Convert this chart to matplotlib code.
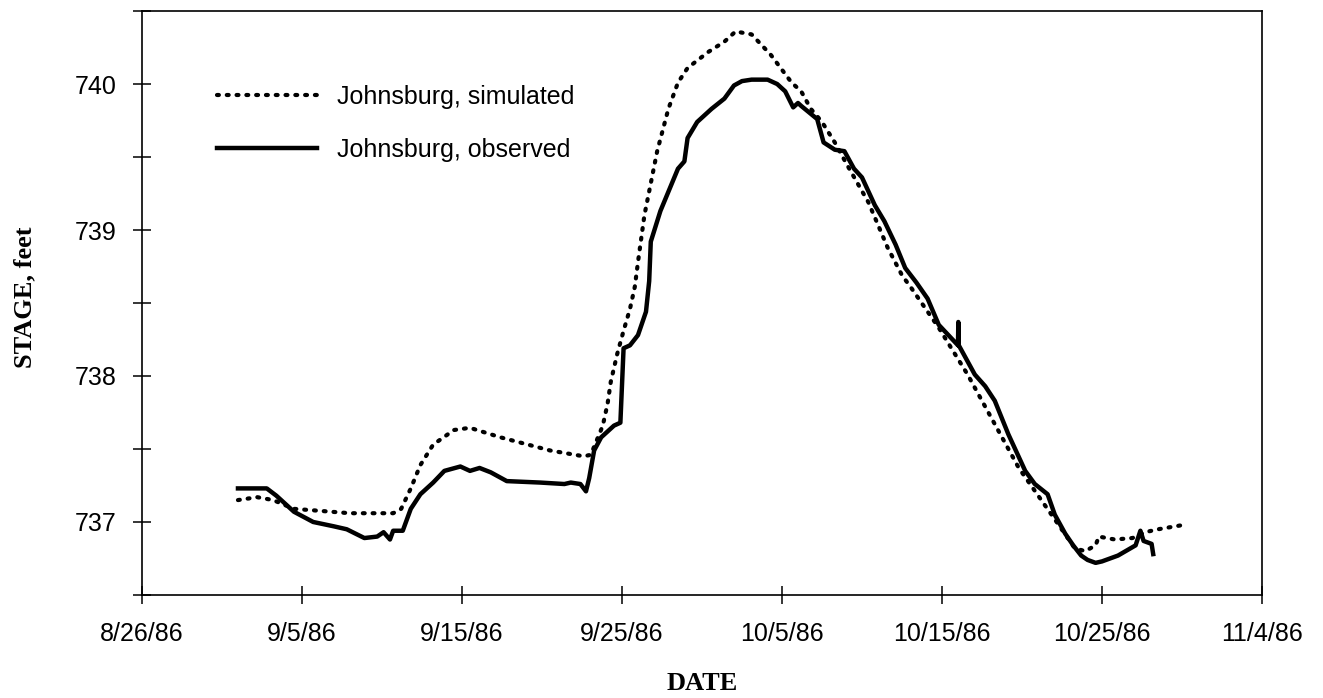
import numpy as np
import pandas as pd
import matplotlib
matplotlib.use("Agg")
import matplotlib.pyplot as plt
from matplotlib.ticker import MultipleLocator

start = pd.Timestamp("1986-08-26")

# observed stage, Johnsburg (days after 8/26/86, feet)
obs_day = [6.0, 7.8, 8.4, 9.5, 10.7, 12.0, 12.8, 13.9, 14.7, 15.1, 15.5, 15.7,
           16.3, 16.8, 17.4, 18.2, 18.9, 19.9, 20.5, 21.1, 21.8, 22.8, 24.9,
           26.4, 26.8, 27.4, 27.75, 27.95, 28.26, 28.7, 29.5, 29.9, 30.1, 30.5,
           31.0, 31.5, 31.7, 31.8, 32.4, 33.5, 33.9, 34.1, 34.7, 35.6, 36.4,
           37.0, 37.5, 38.1, 39.1, 39.7, 40.2, 40.7, 41.0, 41.2, 42.2, 42.6,
           43.3, 43.9, 44.5, 45.0, 45.8, 46.4, 47.1, 47.7, 48.4, 49.1, 49.8,
           50.4, 51.0, 51.02, 51.05, 51.5, 52.05, 52.7, 53.3, 54.15, 55.2, 55.8,
           56.6, 57.05, 57.7, 58.2, 58.7, 59.1, 59.6, 60.0, 61.0, 62.1, 62.4,
           62.6, 63.1, 63.2]
obs_stage = [737.23, 737.23, 737.18, 737.07, 737.00, 736.97, 736.95, 736.89,
             736.90, 736.93, 736.88, 736.94, 736.94, 737.09, 737.19, 737.27,
             737.35, 737.38, 737.35, 737.37, 737.34, 737.28, 737.27, 737.26,
             737.27, 737.26, 737.21, 737.30, 737.49, 737.58, 737.66, 737.68,
             738.19, 738.21, 738.28, 738.44, 738.65, 738.92, 739.13, 739.42,
             739.47, 739.63, 739.74, 739.83, 739.90, 739.99, 740.02, 740.03,
             740.03, 740.00, 739.95, 739.84, 739.87, 739.85, 739.76, 739.60,
             739.55, 739.54, 739.42, 739.36, 739.17, 739.06, 738.90, 738.74,
             738.64, 738.53, 738.35, 738.28, 738.21, 738.37, 738.21, 738.12,
             738.01, 737.93, 737.83, 737.60, 737.35, 737.26, 737.19, 737.05,
             736.92, 736.84, 736.77, 736.74, 736.72, 736.73, 736.77, 736.84,
             736.94, 736.87, 736.85, 736.78]

# simulated stage, Johnsburg
sim_day = [6.0, 7.2, 8.2, 9.5, 10.7, 13.0, 15.7, 16.2, 16.8, 17.4, 18.2, 19.5,
           20.5, 22.4, 25.5, 27.6, 28.05, 28.8, 29.1, 29.3, 29.7, 30.1, 30.5,
           30.8, 31.0, 31.4, 32.2, 32.9, 33.5, 34.1, 35.4, 36.4, 37.1, 38.1,
           39.3, 40.6, 41.2, 41.8, 42.5, 43.3, 44.1, 45.4, 46.6, 47.5, 48.1,
           49.8, 51.6, 54.8, 57.1, 58.3, 58.95, 59.6, 59.8, 60.8, 61.9, 62.7,
           63.5, 65.1]
sim_stage = [737.15, 737.17, 737.15, 737.09, 737.08, 737.06, 737.06, 737.09,
             737.23, 737.39, 737.53, 737.63, 737.645, 737.58, 737.49, 737.45,
             737.46, 737.66, 737.81, 737.96, 738.15, 738.31, 738.46, 738.61,
             738.78, 739.10, 739.54, 739.83, 740.01, 740.11, 740.22, 740.29,
             740.36, 740.34, 740.20, 740.01, 739.95, 739.83, 739.74, 739.60,
             739.44, 739.19, 738.88, 738.69, 738.60, 738.33, 738.01, 737.37,
             737.01, 736.82, 736.80, 736.84, 736.90, 736.88, 736.89, 736.93,
             736.95, 736.98]

obs_t = start + pd.to_timedelta(obs_day, unit="D")
sim_t = start + pd.to_timedelta(sim_day, unit="D")

tick_dates = pd.date_range("1986-08-26", "1986-11-04", freq="10D")
tick_labels = [f"{d.month}/{d.day}/{d.strftime('%y')}" for d in tick_dates]

plt.rcParams["font.family"] = ["Liberation Sans", "DejaVu Sans"]

fig = plt.figure(figsize=(13.23, 6.98), dpi=100)
ax = fig.add_axes([0.1073, 0.1476, 0.8466, 0.8366])

ax.plot(sim_t, sim_stage, color="black", lw=3.0, linestyle=(0, (0.45, 1.9)),
        dash_capstyle="round", label="Johnsburg, simulated")
ax.plot(obs_t, obs_stage, color="black", lw=3.2, solid_joinstyle="round",
        label="Johnsburg, observed")

ax.set_xlim(tick_dates[0], tick_dates[-1])
ax.set_ylim(736.5, 740.5)
ax.set_xticks(tick_dates)
ax.set_xticklabels(tick_labels)
ax.yaxis.set_major_locator(MultipleLocator(1))
ax.yaxis.set_minor_locator(MultipleLocator(0.5))
ax.set_yticks([737, 738, 739, 740])

ax.tick_params(axis="both", which="both", direction="inout", length=13,
               width=1.1, labelsize=18)
ax.tick_params(axis="y", pad=11.5)
ax.tick_params(axis="x", pad=13)
for s in ax.spines.values():
    s.set_linewidth(1.2)

serif_bold = dict(family=["Liberation Serif", "DejaVu Serif"], weight="bold", size=19)
ax.set_xlabel("DATE", **serif_bold)
ax.set_ylabel("STAGE, feet", **serif_bold)
ax.xaxis.set_label_coords(0.5, -0.132)
ax.yaxis.set_label_coords(-0.094, 0.51)

ax.legend(loc="upper left", bbox_to_anchor=(0.067, 0.873), frameon=False,
          fontsize=18, handlelength=4.0, handletextpad=0.8, labelspacing=1.16,
          borderpad=0, borderaxespad=0)

fig.savefig("out.png", dpi=100)
